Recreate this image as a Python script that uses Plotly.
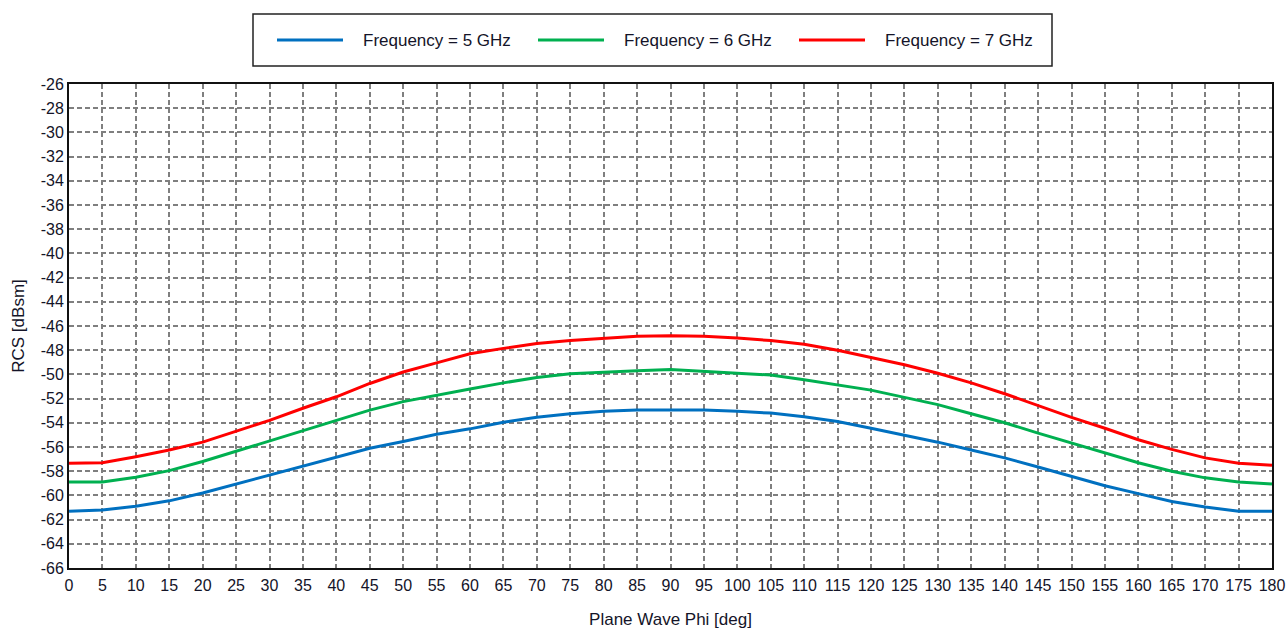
import plotly.graph_objects as go

# Plane wave incidence angle (deg) and monostatic RCS (dBsm) per frequency
phi_deg = list(range(0, 181, 5))

rcs_5ghz = [-61.3, -61.2, -60.9, -60.45, -59.8, -59.05, -58.3, -57.55, -56.8, -56.1,
            -55.55, -54.95, -54.5, -53.95, -53.55, -53.25, -53.05, -52.95, -52.95,
            -52.95, -53.05, -53.2, -53.5, -53.9, -54.45, -55.0, -55.6, -56.25, -56.9,
            -57.65, -58.45, -59.2, -59.85, -60.5, -60.95, -61.3, -61.3]

rcs_6ghz = [-58.9, -58.9, -58.5, -57.95, -57.2, -56.35, -55.5, -54.6, -53.8, -52.95,
            -52.25, -51.7, -51.2, -50.7, -50.25, -49.95, -49.8, -49.7, -49.6,
            -49.75, -49.85, -50.05, -50.45, -50.9, -51.3, -51.9, -52.5, -53.25, -54.0,
            -54.85, -55.65, -56.5, -57.3, -58.0, -58.55, -58.9, -59.05]

rcs_7ghz = [-57.35, -57.3, -56.8, -56.25, -55.6, -54.7, -53.8, -52.8, -51.85, -50.75,
            -49.8, -49.05, -48.3, -47.85, -47.45, -47.2, -47.0, -46.85, -46.8,
            -46.85, -47.0, -47.2, -47.5, -48.0, -48.6, -49.2, -49.9, -50.7, -51.6,
            -52.6, -53.55, -54.45, -55.4, -56.2, -56.9, -57.35, -57.5]

series_names = ["Frequency = 5 GHz", "Frequency = 6 GHz", "Frequency = 7 GHz"]
series_values = [rcs_5ghz, rcs_6ghz, rcs_7ghz]
series_colors = ["#0070C0", "#00B050", "#FF0000"]

x_ticks = list(range(0, 181, 5))
y_ticks = list(range(-66, -25, 2))
y_tick_text = [str(v) for v in y_ticks]  # plain hyphen-minus labels

FONT = "Liberation Sans, Arial, sans-serif"
TEXT = "#141428"

W, H = 1288, 633
M_L, M_R, M_T, M_B = 69, 16, 84, 65
PLOT_W = W - M_L - M_R
PLOT_H = H - M_T - M_B


def px_x(px):
    return (px - M_L) / PLOT_W


def px_y(py):
    return (H - M_B - py) / PLOT_H


fig = go.Figure()
for name, vals, col in zip(series_names, series_values, series_colors):
    fig.add_trace(go.Scatter(x=phi_deg, y=vals, mode="lines", name=name,
                             line=dict(color=col, width=3), showlegend=False))

grid = dict(showgrid=True, gridcolor="#7f7f7f", gridwidth=1.5, griddash="5px,3px",
            showline=True, linecolor="#111111", linewidth=2, mirror=True,
            zeroline=False, ticks="", automargin=False,
            tickfont=dict(family=FONT, size=16, color=TEXT))

fig.update_xaxes(range=[0, 180], tickmode="array", tickvals=x_ticks,
                 ticklabelstandoff=2,
                 title=dict(text="Plane Wave Phi [deg]", standoff=20,
                            font=dict(family=FONT, size=17, color=TEXT)), **grid)
fig.update_yaxes(range=[-66, -26], tickmode="array", tickvals=y_ticks,
                 ticktext=y_tick_text, ticklabelstandoff=0,
                 title=dict(text="RCS [dBsm]", standoff=12,
                            font=dict(family=FONT, size=17, color=TEXT)), **grid)

# Legend box drawn above the plot area
shapes = [dict(type="rect", xref="paper", yref="paper",
               x0=px_x(253), x1=px_x(1052), y0=px_y(66), y1=px_y(14),
               line=dict(color="#222222", width=1.5), fillcolor="white")]
annotations = []
line_starts = [277, 538, 799]
for x0, name, col in zip(line_starts, series_names, series_colors):
    shapes.append(dict(type="line", xref="paper", yref="paper",
                       x0=px_x(x0), x1=px_x(x0 + 66), y0=px_y(40), y1=px_y(40),
                       line=dict(color=col, width=3)))
    annotations.append(dict(xref="paper", yref="paper", x=px_x(x0 + 84), y=px_y(40),
                            text=name, showarrow=False, xanchor="left", yanchor="middle",
                            font=dict(family=FONT, size=17, color=TEXT)))

fig.update_layout(width=W, height=H, margin=dict(l=M_L, r=M_R, t=M_T, b=M_B),
                  paper_bgcolor="white", plot_bgcolor="white",
                  shapes=shapes, annotations=annotations, showlegend=False)

fig.write_html("out.html", config={"responsive": False})
